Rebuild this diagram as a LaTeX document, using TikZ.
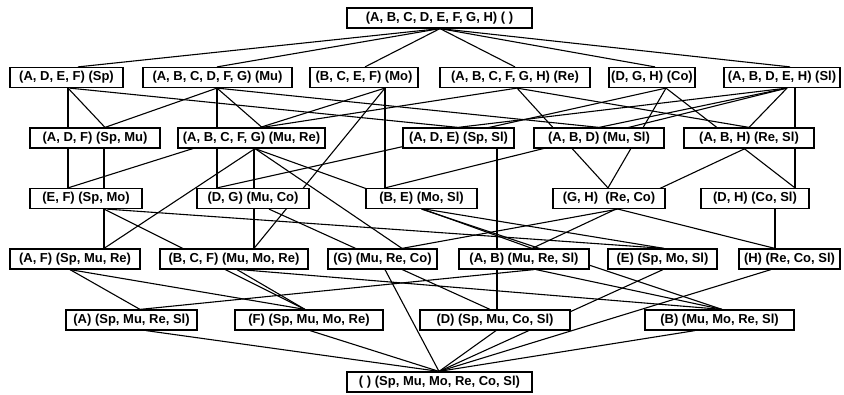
\documentclass[tikz,border=0pt]{standalone}
\usepackage{fontspec}
\setmainfont{Liberation Sans}
\pgfdeclarelayer{bg}
\pgfsetlayers{bg,main}
\tikzset{
  bx/.style={draw, line width=1.2pt, fill=white, inner sep=0pt, minimum height=20pt,
    font=\fontsize{13}{15}\selectfont\bfseries},
  ln/.style={line width=1.1pt},
}
\newcommand\lk[4]{\draw[ln] ([xshift=#2pt]#1.south) -- ([xshift=#4pt]#3.north);}
\begin{document}
\begin{tikzpicture}[x=1pt,y=-1pt]
\useasboundingbox (0,0) rectangle (844,395);
% row 0
\node[bx,minimum width=185pt] (top) at (439.5,18) {(A, B, C, D, E, F, G, H) ( )};
% row 1
\node[bx,minimum width=113pt] (sp) at (66.5,77.5) {(A, D, E, F) (Sp)};
\node[bx,minimum width=149pt] (mu) at (217.5,77.5) {(A, B, C, D, F, G) (Mu)};
\node[bx,minimum width=108pt] (mo) at (364,77.5) {(B, C, E, F) (Mo)};
\node[bx,minimum width=150pt] (re) at (515,77.5) {(A, B, C, F, G, H) (Re)};
\node[bx,minimum width=86pt] (co) at (652,77.5) {(D, G, H) (Co)};
\node[bx,minimum width=116pt] (sl) at (782,77.5) {(A, B, D, E, H) (Sl)};
% row 2
\node[bx,minimum width=130pt] (adf) at (95,138) {(A, D, F) (Sp, Mu)};
\node[bx,minimum width=147pt] (abcfg) at (251.5,138) {(A, B, C, F, G) (Mu, Re)};
\node[bx,minimum width=111pt] (ade) at (458.5,138) {(A, D, E) (Sp, Sl)};
\node[bx,minimum width=130pt] (abd) at (599,138) {(A, B, D) (Mu, Sl)};
\node[bx,minimum width=130pt] (abh) at (749,138) {(A, B, H) (Re, Sl)};
% row 3
\node[bx,minimum width=112pt] (ef) at (86,198.5) {(E, F) (Sp, Mo)};
\node[bx,minimum width=112pt] (dg) at (253,198.5) {(D, G) (Mu, Co)};
\node[bx,minimum width=111pt] (be) at (421.5,198.5) {(B, E) (Mo, Sl)};
\node[bx,minimum width=112pt] (gh) at (609,198.5) {(G, H)\ \ (Re, Co)};
\node[bx,minimum width=108pt] (dh) at (755,198.5) {(D, H) (Co, Sl)};
% row 4
\node[bx,minimum width=130pt] (af) at (75,259) {(A, F) (Sp, Mu, Re)};
\node[bx,minimum width=148pt] (bcf) at (234,259) {(B, C, F) (Mu, Mo, Re)};
\node[bx,minimum width=109pt] (g) at (382.5,259) {(G) (Mu, Re, Co)};
\node[bx,minimum width=130pt] (ab) at (524,259) {(A, B) (Mu, Re, Sl)};
\node[bx,minimum width=109pt] (e) at (662.5,259) {(E) (Sp, Mo, Sl)};
\node[bx,minimum width=101pt] (h) at (789.5,259) {(H) (Re, Co, Sl)};
% row 5
\node[bx,minimum width=131pt] (a) at (131.5,320) {(A) (Sp, Mu, Re, Sl)};
\node[bx,minimum width=148pt] (f) at (309,320) {(F) (Sp, Mu, Mo, Re)};
\node[bx,minimum width=150pt] (d) at (495,320) {(D) (Sp, Mu, Co, Sl)};
\node[bx,minimum width=149pt] (b) at (719.5,320) {(B) (Mu, Mo, Re, Sl)};
% bottom
\node[bx,minimum width=185pt] (bot) at (439.5,382) {( ) (Sp, Mu, Mo, Re, Co, Sl)};

\begin{pgfonlayer}{bg}
% top -> row 1
\lk{top}{0.5}{sp}{11.5}
\lk{top}{0.5}{mu}{-0.5}
\lk{top}{0.5}{mo}{1}
\lk{top}{0.5}{re}{0}
\lk{top}{0.5}{co}{3}
\lk{top}{0.5}{sl}{8}
% row 1 ->
\lk{sp}{1.5}{adf}{10}
\lk{sp}{1.5}{ef}{-18}
\lk{sp}{3}{ade}{-0.5}
\lk{mu}{-0.5}{adf}{10}
\lk{mu}{-0.5}{abcfg}{10.5}
\lk{mu}{-0.5}{abd}{0}
\lk{mu}{-0.5}{dg}{-36}
\lk{mo}{21}{ef}{-18}
\lk{mo}{21}{be}{-36.5}
\lk{mo}{21}{bcf}{20}
\lk{re}{2}{abcfg}{10.5}
\lk{re}{2}{abh}{0}
\lk{re}{2}{gh}{-1}
\lk{co}{14}{dg}{-36}
\lk{co}{14}{gh}{-1}
\lk{co}{14}{dh}{40}
\lk{sl}{5}{ade}{-0.5}
\lk{sl}{5}{abd}{0}
\lk{sl}{5}{abh}{0}
\lk{sl}{5}{be}{-36.5}
\lk{sl}{13}{dh}{40}
% row 2 ->
\lk{adf}{9}{af}{29}
\lk{abcfg}{3.5}{af}{29}
\lk{abcfg}{2.5}{bcf}{20}
\lk{abcfg}{3.5}{g}{19.5}
\lk{abcfg}{3.5}{ab}{8}
\lk{ade}{38.5}{d}{2}
\lk{abh}{-4}{ab}{8}
% row 3 ->
\lk{ef}{21}{e}{1.5}
\lk{ef}{18}{f}{-4}
\lk{dg}{16}{d}{-5}
\lk{be}{3.5}{e}{1.5}
\lk{be}{0}{b}{2.5}
\lk{gh}{9}{g}{19.5}
\lk{gh}{9}{h}{-14.5}
\lk{dh}{20}{h}{-14.5}
% row 4 ->
\lk{af}{-5}{a}{8.5}
\lk{af}{-5}{f}{-4}
\lk{bcf}{3}{f}{-4}
\lk{bcf}{6}{b}{2.5}
\lk{g}{2.5}{bot}{-0.5}
\lk{ab}{10}{a}{8.5}
\lk{ab}{12}{b}{2.5}
\lk{e}{0.5}{bot}{-0.5}
\lk{h}{-18.5}{bot}{-0.5}
% row 5 ->
\lk{a}{14.5}{bot}{-0.5}
\lk{f}{1}{bot}{-0.5}
\lk{d}{1}{bot}{-0.5}
\lk{b}{-24.5}{bot}{-0.5}
\end{pgfonlayer}
\end{tikzpicture}
\end{document}
